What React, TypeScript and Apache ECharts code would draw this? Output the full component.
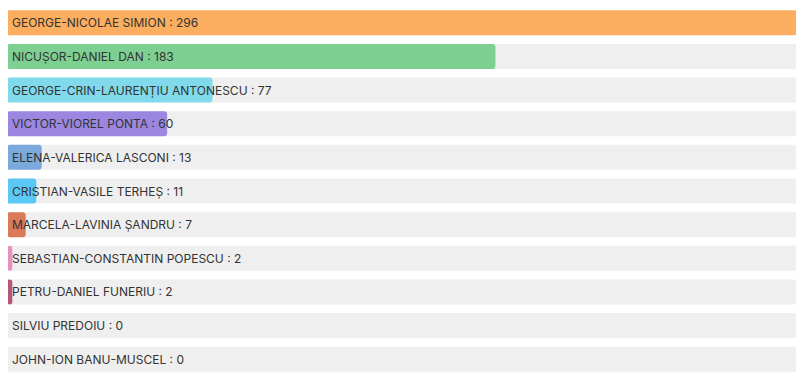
import React, { useEffect, useRef } from "react";
import * as echarts from "echarts";

const candidates = [
  "GEORGE-NICOLAE SIMION",
  "NICUȘOR-DANIEL DAN",
  "GEORGE-CRIN-LAURENȚIU ANTONESCU",
  "VICTOR-VIOREL PONTA",
  "ELENA-VALERICA LASCONI",
  "CRISTIAN-VASILE TERHEȘ",
  "MARCELA-LAVINIA ȘANDRU",
  "SEBASTIAN-CONSTANTIN POPESCU",
  "PETRU-DANIEL FUNERIU",
  "SILVIU PREDOIU",
  "JOHN-ION BANU-MUSCEL",
];
const votes = [296, 183, 77, 60, 13, 11, 7, 2, 2, 0, 0];
const colors = [
  "#FBAE5F",
  "#7ED092",
  "#80DAEB",
  "#9B87E1",
  "#7BA9DC",
  "#5CC8F6",
  "#DB7A58",
  "#E891BF",
  "#B6567C",
  "#CCCCCC",
  "#CCCCCC",
];

export default function App() {
  const ref = useRef<HTMLDivElement>(null);
  useEffect(() => {
    if (!ref.current) return;
    const chart = echarts.init(ref.current, undefined, { renderer: "svg" });
    chart.setOption({
      animation: false,
      grid: { left: 7, right: 7, top: 6, bottom: 7, containLabel: false },
      xAxis: {
        type: "value",
        min: 0,
        max: Math.max(...votes),
        show: false,
      },
      yAxis: {
        type: "category",
        inverse: true,
        data: candidates,
        show: false,
      },
      series: [
        {
          type: "bar",
          barWidth: 25,
          showBackground: true,
          backgroundStyle: { color: "#EFEFEF", borderRadius: 3 },
          data: votes.map((v, i) => ({
            value: v,
            itemStyle: { color: colors[i], borderRadius: 3 },
          })),
          label: {
            show: true,
            position: "insideLeft",
            distance: 5,
            color: "#333333",
            fontFamily: "Inter",
            fontSize: 12,
            formatter: (p: any) => `${candidates[p.dataIndex]} : ${p.value}`,
          },
        },
      ],
    });
    return () => chart.dispose();
  }, []);
  return <div ref={ref} style={{ width: 804, height: 383, margin: -8 }} />;
}
